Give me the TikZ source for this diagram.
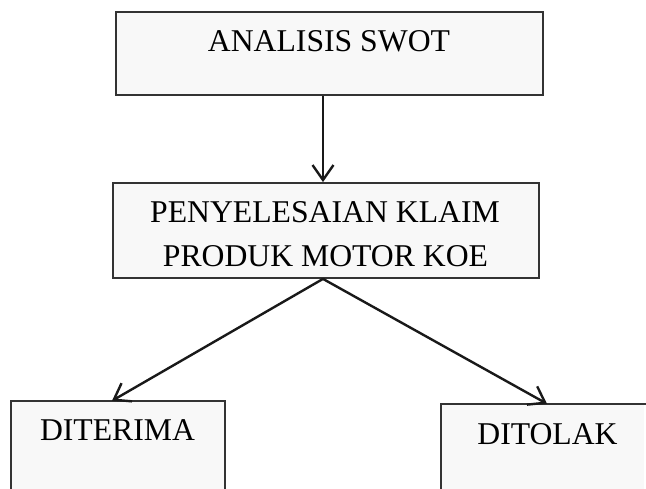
\documentclass[tikz,border=0pt]{standalone}
\usepackage{fontspec}
\setmainfont{Liberation Serif}
\usetikzlibrary{arrows.meta}
\definecolor{boxfill}{HTML}{F8F8F8}
\definecolor{boxline}{HTML}{333333}
\begin{document}
\begin{tikzpicture}[x=1pt,y=-1pt,
  box/.style={draw=boxline,fill=boxfill,line width=1.8pt,rectangle,inner sep=0pt},
  openbox/.style={fill=boxfill,rectangle,inner sep=0pt},
  edge/.style={draw=boxline,line width=1.8pt},
  lbl/.style={font=\fontsize{31.7}{38}\selectfont,anchor=base,inner sep=0pt},
  conn/.style={line width=2.4pt,draw=black!90,-{Straight Barb[length=15pt,width=21pt,line width=2.4pt]}}]
\useasboundingbox (0,0) rectangle (646,489);
\node[box,minimum width=427pt,minimum height=83pt] (top) at (329.5,53.5) {};
\node[box,minimum width=426pt,minimum height=95pt] (mid) at (326,230.5) {};
\node[openbox,minimum width=214pt,minimum height=88pt] (bl) at (118,445) {};
\draw[edge] (bl.south west) -- (bl.north west) -- (bl.north east) -- (bl.south east);
\node[openbox,minimum width=203pt,minimum height=85pt] (br) at (542.5,446.5) {};
\draw[edge] (br.south west) -- (br.north west) -- ([xshift=2pt]br.north east);
\node[lbl] (t1) at (329,52) {ANALISIS SWOT};
\node[lbl] (t2) at (325,223) {PENYELESAIAN KLAIM};
\node[lbl] (t3) at (325.5,267) {PRODUK MOTOR KOE};
\node[lbl] (t4) at (117.5,440) {DITERIMA};
\node[lbl] (t5) at (547.5,444) {DITOLAK};
\draw[conn] ([xshift=-6.5pt]top.south) -- ([xshift=-3pt]mid.north);
\draw[conn] ([xshift=-3pt]mid.south) -- ([xshift=-6pt]bl.north);
\draw[conn] ([xshift=-3pt]mid.south) -- ([xshift=4.5pt]br.north);
\end{tikzpicture}
\end{document}
